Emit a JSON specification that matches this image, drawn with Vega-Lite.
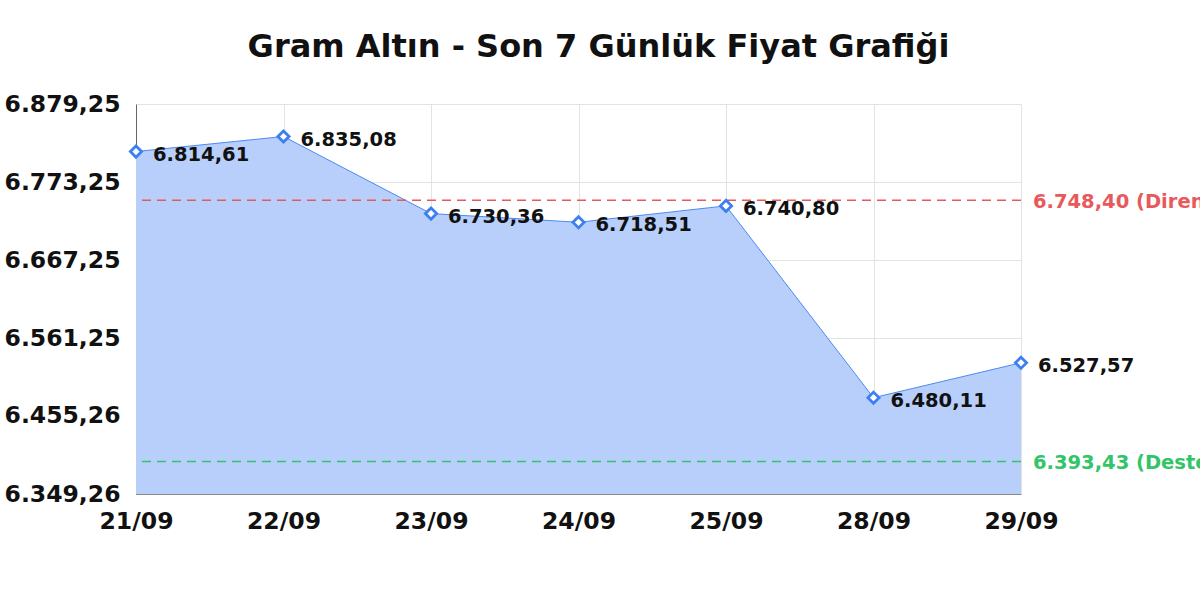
{
  "$schema": "https://vega.github.io/schema/vega-lite/v6.json",
  "autosize": "none",
  "width": 885,
  "height": 390,
  "padding": {"left": 136, "top": 104, "right": 179, "bottom": 106},
  "background": "white",
  "title": {
    "text": "Gram Altın - Son 7 Günlük Fiyat Grafiği",
    "font": "DejaVu Sans",
    "fontSize": 32,
    "fontWeight": "bold",
    "color": "#111111",
    "anchor": "middle",
    "dx": 20,
    "offset": 28
  },
  "config": {
    "locale": {
      "number": {"decimal": ",", "thousands": ".", "grouping": [3], "currency": ["", " TL"]}
    },
    "font": "DejaVu Sans",
    "view": {"stroke": null},
    "axis": {
      "labelFont": "DejaVu Sans",
      "labelFontWeight": "bold",
      "labelFontSize": 23.5,
      "labelColor": "#111111",
      "gridColor": "#e3e3e3",
      "domainColor": "#888888",
      "ticks": false,
      "title": null
    }
  },
  "datasets": {
    "prices": [
      {"date": "21/09", "price": 6814.61},
      {"date": "22/09", "price": 6835.08},
      {"date": "23/09", "price": 6730.36},
      {"date": "24/09", "price": 6718.51},
      {"date": "25/09", "price": 6740.80},
      {"date": "28/09", "price": 6480.11},
      {"date": "29/09", "price": 6527.57}
    ],
    "levels": [
      {"level": 6748.40, "kind": "Direnç"},
      {"level": 6393.43, "kind": "Destek"}
    ]
  },
  "layer": [
    {
      "data": {"name": "prices"},
      "mark": {"type": "area", "color": "#b7cffa", "opacity": 1, "clip": true},
      "encoding": {
        "x": {
          "field": "date", "type": "ordinal", "sort": null,
          "scale": {"type": "point", "padding": 0},
          "axis": {"labelAngle": 0, "labelPadding": 15, "grid": true, "domainColor": "#888888"}
        },
        "y": {
          "field": "price", "type": "quantitative",
          "scale": {"domain": [6349.26, 6879.25], "zero": false, "nice": false},
          "axis": {
            "values": [6349.26, 6455.26, 6561.25, 6667.25, 6773.25, 6879.25],
            "format": ",.2f", "labelPadding": 16, "grid": true, "domainColor": "#666666"
          }
        }
      }
    },
    {
      "data": {"name": "prices"},
      "mark": {"type": "line", "color": "#4a8af4", "strokeWidth": 1},
      "encoding": {
        "x": {"field": "date", "type": "ordinal", "sort": null},
        "y": {"field": "price", "type": "quantitative"}
      }
    },
    {
      "data": {"name": "levels"},
      "mark": {"type": "rule", "strokeDash": [9, 6], "strokeWidth": 1.5},
      "encoding": {
        "y": {"field": "level", "type": "quantitative"},
        "color": {
          "field": "kind", "type": "nominal",
          "scale": {"domain": ["Direnç", "Destek"], "range": ["#e8595b", "#33c46a"]},
          "legend": null
        }
      }
    },
    {
      "data": {"name": "levels"},
      "transform": [{"calculate": "format(datum.level, ',.2f') + ' (' + datum.kind + ')'", "as": "label"}],
      "mark": {"type": "text", "align": "left", "baseline": "middle", "dx": 12, "dy": 2, "fontSize": 19.5, "fontWeight": "bold"},
      "encoding": {
        "x": {"datum": "29/09", "type": "ordinal"},
        "y": {"field": "level", "type": "quantitative"},
        "text": {"field": "label"},
        "color": {"field": "kind", "type": "nominal", "legend": null}
      }
    },
    {
      "data": {"name": "prices"},
      "mark": {"type": "point", "shape": "diamond", "filled": true, "fill": "white", "stroke": "#3b7ff2", "strokeWidth": 2.8, "size": 125, "opacity": 1},
      "encoding": {
        "x": {"field": "date", "type": "ordinal", "sort": null},
        "y": {"field": "price", "type": "quantitative"}
      }
    },
    {
      "data": {"name": "prices"},
      "mark": {"type": "text", "align": "left", "baseline": "middle", "dx": 17, "dy": 3, "fontSize": 19.5, "fontWeight": "bold", "color": "#111111"},
      "encoding": {
        "x": {"field": "date", "type": "ordinal", "sort": null},
        "y": {"field": "price", "type": "quantitative"},
        "text": {"field": "price", "type": "quantitative", "format": ",.2f"}
      }
    }
  ]
}
